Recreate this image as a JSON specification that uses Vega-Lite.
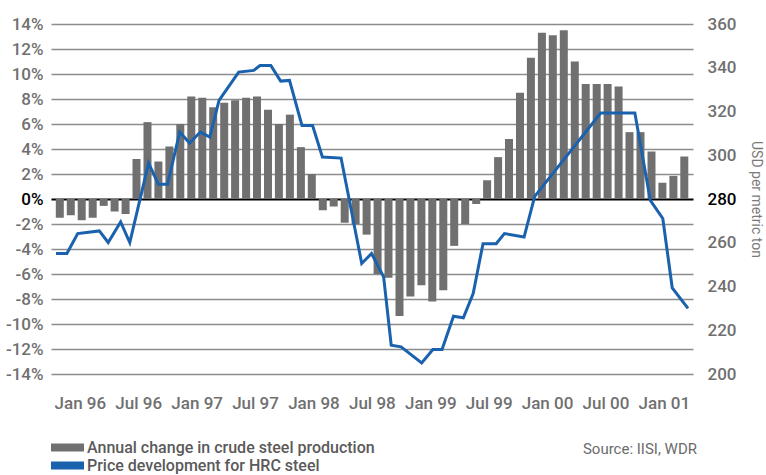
{
  "$schema": "https://vega.github.io/schema/vega-lite/v6.json",
  "autosize": "none",
  "width": 642,
  "height": 350,
  "padding": {"left": 51, "top": 24, "right": 73, "bottom": 101},
  "background": "white",
  "title": {
    "text": "Source: IISI, WDR",
    "orient": "bottom",
    "anchor": "end",
    "font": "Roboto",
    "fontSize": 15,
    "fontWeight": "normal",
    "color": "#6b6b6b",
    "offset": -32,
    "dx": -66
  },
  "datasets": {
    "production": [
      {"t": -2.06, "change": -1.5, "series": "Annual change in crude steel production"},
      {"t": -0.93, "change": -1.3, "series": "Annual change in crude steel production"},
      {"t": 0.19, "change": -1.7, "series": "Annual change in crude steel production"},
      {"t": 1.32, "change": -1.5, "series": "Annual change in crude steel production"},
      {"t": 2.45, "change": -0.55, "series": "Annual change in crude steel production"},
      {"t": 3.57, "change": -1.0, "series": "Annual change in crude steel production"},
      {"t": 4.70, "change": -1.2, "series": "Annual change in crude steel production"},
      {"t": 5.82, "change": 3.2, "series": "Annual change in crude steel production"},
      {"t": 6.95, "change": 6.15, "series": "Annual change in crude steel production"},
      {"t": 8.07, "change": 3.0, "series": "Annual change in crude steel production"},
      {"t": 9.20, "change": 4.2, "series": "Annual change in crude steel production"},
      {"t": 10.32, "change": 6.0, "series": "Annual change in crude steel production"},
      {"t": 11.45, "change": 8.2, "series": "Annual change in crude steel production"},
      {"t": 12.58, "change": 8.1, "series": "Annual change in crude steel production"},
      {"t": 13.70, "change": 7.35, "series": "Annual change in crude steel production"},
      {"t": 14.83, "change": 7.7, "series": "Annual change in crude steel production"},
      {"t": 15.95, "change": 7.9, "series": "Annual change in crude steel production"},
      {"t": 17.08, "change": 8.1, "series": "Annual change in crude steel production"},
      {"t": 18.20, "change": 8.2, "series": "Annual change in crude steel production"},
      {"t": 19.33, "change": 7.15, "series": "Annual change in crude steel production"},
      {"t": 20.45, "change": 6.0, "series": "Annual change in crude steel production"},
      {"t": 21.58, "change": 6.75, "series": "Annual change in crude steel production"},
      {"t": 22.71, "change": 4.15, "series": "Annual change in crude steel production"},
      {"t": 23.83, "change": 2.0, "series": "Annual change in crude steel production"},
      {"t": 24.96, "change": -0.9, "series": "Annual change in crude steel production"},
      {"t": 26.08, "change": -0.6, "series": "Annual change in crude steel production"},
      {"t": 27.21, "change": -1.9, "series": "Annual change in crude steel production"},
      {"t": 28.33, "change": -2.0, "series": "Annual change in crude steel production"},
      {"t": 29.46, "change": -2.85, "series": "Annual change in crude steel production"},
      {"t": 30.59, "change": -6.0, "series": "Annual change in crude steel production"},
      {"t": 31.71, "change": -6.3, "series": "Annual change in crude steel production"},
      {"t": 32.84, "change": -9.35, "series": "Annual change in crude steel production"},
      {"t": 33.96, "change": -7.8, "series": "Annual change in crude steel production"},
      {"t": 35.09, "change": -6.9, "series": "Annual change in crude steel production"},
      {"t": 36.21, "change": -8.2, "series": "Annual change in crude steel production"},
      {"t": 37.34, "change": -7.3, "series": "Annual change in crude steel production"},
      {"t": 38.46, "change": -3.75, "series": "Annual change in crude steel production"},
      {"t": 39.59, "change": -2.0, "series": "Annual change in crude steel production"},
      {"t": 40.72, "change": -0.4, "series": "Annual change in crude steel production"},
      {"t": 41.84, "change": 1.5, "series": "Annual change in crude steel production"},
      {"t": 42.97, "change": 3.35, "series": "Annual change in crude steel production"},
      {"t": 44.09, "change": 4.8, "series": "Annual change in crude steel production"},
      {"t": 45.22, "change": 8.5, "series": "Annual change in crude steel production"},
      {"t": 46.34, "change": 11.3, "series": "Annual change in crude steel production"},
      {"t": 47.47, "change": 13.3, "series": "Annual change in crude steel production"},
      {"t": 48.59, "change": 13.1, "series": "Annual change in crude steel production"},
      {"t": 49.72, "change": 13.5, "series": "Annual change in crude steel production"},
      {"t": 50.85, "change": 11.0, "series": "Annual change in crude steel production"},
      {"t": 51.97, "change": 9.2, "series": "Annual change in crude steel production"},
      {"t": 53.10, "change": 9.2, "series": "Annual change in crude steel production"},
      {"t": 54.22, "change": 9.2, "series": "Annual change in crude steel production"},
      {"t": 55.35, "change": 9.0, "series": "Annual change in crude steel production"},
      {"t": 56.47, "change": 5.35, "series": "Annual change in crude steel production"},
      {"t": 57.60, "change": 5.35, "series": "Annual change in crude steel production"},
      {"t": 58.73, "change": 3.8, "series": "Annual change in crude steel production"},
      {"t": 59.85, "change": 1.3, "series": "Annual change in crude steel production"},
      {"t": 60.98, "change": 1.85, "series": "Annual change in crude steel production"},
      {"t": 62.10, "change": 3.4, "series": "Annual change in crude steel production"}
    ],
    "price": [
      {"t": -2.45, "usd": 255.1},
      {"t": -1.33, "usd": 255.1},
      {"t": -0.22, "usd": 264.2},
      {"t": 2.00, "usd": 265.4},
      {"t": 2.91, "usd": 260.1},
      {"t": 4.19, "usd": 269.5},
      {"t": 5.13, "usd": 260.1},
      {"t": 7.06, "usd": 296.4},
      {"t": 8.07, "usd": 286.7},
      {"t": 9.01, "usd": 286.7},
      {"t": 10.26, "usd": 310.6},
      {"t": 11.27, "usd": 305.6},
      {"t": 12.38, "usd": 310.6},
      {"t": 13.35, "usd": 308.3},
      {"t": 14.30, "usd": 325.1},
      {"t": 16.32, "usd": 338.0},
      {"t": 17.87, "usd": 338.8},
      {"t": 18.51, "usd": 341.0},
      {"t": 19.62, "usd": 341.0},
      {"t": 20.63, "usd": 333.9},
      {"t": 21.54, "usd": 334.2},
      {"t": 22.82, "usd": 313.6},
      {"t": 23.91, "usd": 313.6},
      {"t": 24.92, "usd": 299.2},
      {"t": 26.84, "usd": 298.7},
      {"t": 28.96, "usd": 250.5},
      {"t": 29.97, "usd": 255.1},
      {"t": 31.21, "usd": 244.4},
      {"t": 31.99, "usd": 213.2},
      {"t": 33.00, "usd": 212.4},
      {"t": 35.12, "usd": 205.1},
      {"t": 36.27, "usd": 211.2},
      {"t": 37.21, "usd": 211.2},
      {"t": 38.39, "usd": 226.4},
      {"t": 39.40, "usd": 225.7},
      {"t": 40.41, "usd": 236.8},
      {"t": 41.42, "usd": 259.6},
      {"t": 42.77, "usd": 259.6},
      {"t": 43.62, "usd": 264.2},
      {"t": 45.64, "usd": 262.6},
      {"t": 46.73, "usd": 281.2},
      {"t": 53.51, "usd": 319.3},
      {"t": 57.02, "usd": 319.3},
      {"t": 58.61, "usd": 279.4},
      {"t": 59.89, "usd": 271.1},
      {"t": 60.86, "usd": 239.4},
      {"t": 62.48, "usd": 230.0}
    ]
  },
  "layer": [
    {
      "data": {"name": "production"},
      "mark": {"type": "bar", "size": 8},
      "encoding": {
        "x": {
          "field": "t",
          "type": "quantitative",
          "scale": {"domain": [-2.45, 62.48], "nice": false, "zero": false},
          "axis": {
            "title": null,
            "values": [0, 6, 12, 18, 24, 30, 36, 42, 48, 54, 60],
            "labelExpr": "['Jan 96','Jul 96','Jan 97','Jul 97','Jan 98','Jul 98','Jan 99','Jul 99','Jan 00','Jul 00','Jan 01'][round(datum.value/6)]",
            "grid": false,
            "ticks": false,
            "domain": false,
            "labelPadding": 21,
            "labelFont": "Roboto",
            "labelFontSize": 17,
            "labelFontWeight": 500,
            "labelColor": "#707070",
            "labelFlush": false,
            "labelOverlap": false
          }
        },
        "y": {
          "field": "change",
          "type": "quantitative",
          "scale": {"domain": [-14, 14], "nice": false},
          "axis": {
            "title": null,
            "orient": "left",
            "values": [-14, -12, -10, -8, -6, -4, -2, 0, 2, 4, 6, 8, 10, 12, 14],
            "labelExpr": "datum.value + '%'",
            "ticks": false,
            "domain": false,
            "labelPadding": 8,
            "labelFont": "Roboto",
            "labelFontSize": 17,
            "labelFontWeight": 500,
            "labelColor": {"condition": {"test": "datum.value === 0", "value": "#000000"}, "value": "#707070"},
            "grid": true,
            "gridColor": {"condition": {"test": "datum.value === 0", "value": "#000000"}, "value": "#8c8c8c"},
            "gridWidth": {"condition": {"test": "datum.value === 0", "value": 2}, "value": 1.5},
            "gridOpacity": 1
          }
        },
        "color": {
          "field": "series",
          "type": "nominal",
          "scale": {
            "domain": ["Annual change in crude steel production", "Price development for HRC steel"],
            "range": ["#707070", "#1a62ad"]
          },
          "legend": {
            "title": null,
            "orient": "none",
            "legendX": 8,
            "legendY": 415,
            "direction": "vertical",
            "symbolType": "M-2,-0.5H2V0.5H-2Z",
            "symbolSize": 272,
            "symbolStrokeWidth": 0,
            "symbolOpacity": 1,
            "labelFont": "Roboto",
            "labelFontSize": 16,
            "labelFontWeight": 500,
            "labelColor": "#5a5a5a",
            "labelLimit": 0,
            "labelOffset": 11,
            "rowPadding": 1,
            "padding": 0
          }
        }
      }
    },
    {
      "data": {"name": "price"},
      "mark": {"type": "line", "strokeWidth": 3, "color": "#1a62ad"},
      "encoding": {
        "x": {"field": "t", "type": "quantitative"},
        "y": {
          "field": "usd",
          "type": "quantitative",
          "scale": {"domain": [200, 360], "nice": false, "zero": false},
          "axis": {
            "orient": "right",
            "title": "USD per metric ton",
            "titleFont": "Roboto",
            "titleFontSize": 14,
            "titleFontWeight": "normal",
            "titleColor": "#7a7a7a",
            "titlePadding": 13,
            "values": [200, 220, 240, 260, 280, 300, 320, 340, 360],
            "ticks": false,
            "domain": false,
            "grid": false,
            "labelPadding": 14,
            "labelFont": "Roboto",
            "labelFontSize": 17,
            "labelFontWeight": 500,
            "labelColor": {"condition": {"test": "datum.value === 280", "value": "#000000"}, "value": "#707070"}
          }
        }
      }
    }
  ],
  "resolve": {"scale": {"y": "independent"}, "axis": {"y": "independent"}},
  "config": {"view": {"stroke": null}, "font": "Roboto"}
}
